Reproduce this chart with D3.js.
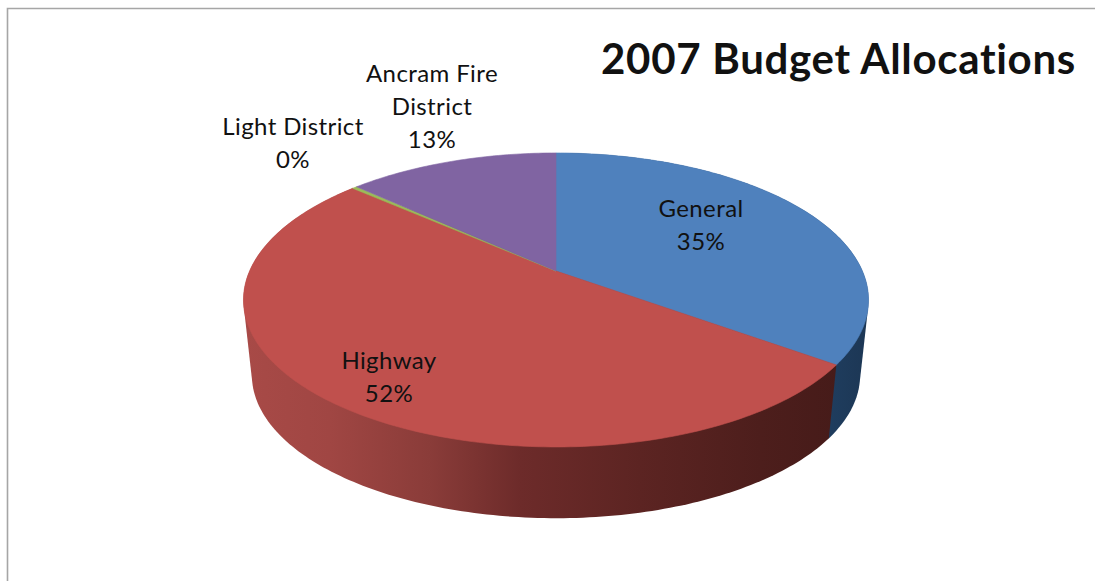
<!DOCTYPE html>
<html>
<head>
<meta charset="utf-8">
<script src="https://cdn.jsdelivr.net/npm/d3@7/dist/d3.min.js"></script>
<style>
  html, body { margin: 0; padding: 0; background: #fff; }
  svg { display: block; }
  text { font-family: Lato, "Open Sans", sans-serif; fill: #111; font-variant-ligatures: none; }
</style>
</head>
<body>
<svg id="chart" width="1095" height="581"></svg>
<script>
// Budget shares, in percent
const categories = ["General", "Highway", "Light District", "Ancram Fire District"];
const shares = [35, 51.5, 0.3, 13.2];
const colors = ["#4f81bd", "#c0504d", "#9bbb59", "#8064a2"];
const labelLines = [["General"], ["Highway"], ["Light District"], ["Ancram Fire", "District"]];
const labelAnchors = [[701, 217], [389, 369], [293, 135], [432, 82]];

const svg = d3.select("#chart");

// Frame around the chart area
svg.append("path")
  .attr("d", "M7.5,581V8.5H1095")
  .attr("fill", "none").attr("stroke", "#a6a6a6").attr("stroke-width", 1.6);

// Tilted-disc projection: a unit circle is seen in perspective, so the pie's
// centre sits above the middle of the visible ellipse.
const persp = -0.197;
function project(angle, face) {
  const u = Math.sin(angle), v = -Math.cos(angle);
  const d = 1 + persp * v;
  return [556 + 306.4 * face.scale * u / d, face.y + 141.3 * face.scale * v / d];
}
const topFace = { y: 271, scale: 1 };
const bottomFace = { y: 347, scale: 0.973 };

const pie = d3.pie().sort(null).value(d => d);
const arcs = pie(shares);
const line = d3.line();

// Sample an angular range at one-degree steps
const sampleAngles = (a0, a1) => {
  const n = Math.max(2, Math.ceil((a1 - a0) * 180 / Math.PI));
  return d3.range(n + 1).map(i => a0 + (a1 - a0) * i / n);
};

const defs = svg.append("defs");
const wallStops = [
  ["Highway", [[244, "#a84a47"], [330, "#a04643"], [430, "#8a3c39"], [520, "#6d2b2a"], [640, "#5c2422"], [760, "#4d1e1c"], [840, "#461b19"]]],
  ["General", [[830, "#1f3d5e"], [870, "#1c3654"]]]
];
wallStops.forEach(([name, stops]) => {
  const x0 = stops[0][0], x1 = stops[stops.length - 1][0];
  const g = defs.append("linearGradient")
    .attr("id", "wall-" + name).attr("gradientUnits", "userSpaceOnUse")
    .attr("x1", x0).attr("x2", x1).attr("y1", 0).attr("y2", 0);
  g.selectAll("stop").data(stops).join("stop")
    .attr("offset", d => (d[0] - x0) / (x1 - x0))
    .attr("stop-color", d => d[1]);
});

// Outer walls of the two front slices: the hull of each slice's upper and
// lower rims gives a clean silhouette where the wall leaves the top face.
svg.append("g").selectAll("path")
  .data([arcs[0], arcs[1]])
  .join("path")
  .attr("d", a => {
    const angles = sampleAngles(a.startAngle, a.endAngle);
    const rims = angles.map(t => project(t, topFace))
      .concat(angles.map(t => project(t, bottomFace)));
    return line(d3.polygonHull(rims)) + "Z";
  })
  .attr("fill", a => `url(#wall-${categories[a.index]})`);

// Top face of every slice
svg.append("g").selectAll("path")
  .data(arcs)
  .join("path")
  .attr("d", a => {
    const rim = sampleAngles(a.startAngle, a.endAngle).map(t => project(t, topFace));
    return line([[556, topFace.y]].concat(rim)) + "Z";
  })
  .attr("fill", (a, i) => colors[i])
  .attr("stroke", (a, i) => colors[i])
  .attr("stroke-width", 0.6);

// Slice labels: name lines followed by the rounded share
const labels = svg.append("g")
  .attr("text-anchor", "middle")
  .attr("font-size", 24)
  .attr("letter-spacing", 0.4);
categories.forEach((c, i) => {
  const [x, y] = labelAnchors[i];
  const lines = labelLines[i].concat(d3.format(".0f")(shares[i]) + "%");
  lines.forEach((t, j) => {
    labels.append("text")
      .attr("x", x).attr("y", y + j * 33)
      .text(t);
  });
});

svg.append("text")
  .attr("x", 838.5).attr("y", 74)
  .attr("text-anchor", "middle")
  .attr("font-size", 42).attr("font-weight", 700)
  .attr("letter-spacing", 0.7)
  .text("2007 Budget Allocations");
</script>
</body>
</html>
